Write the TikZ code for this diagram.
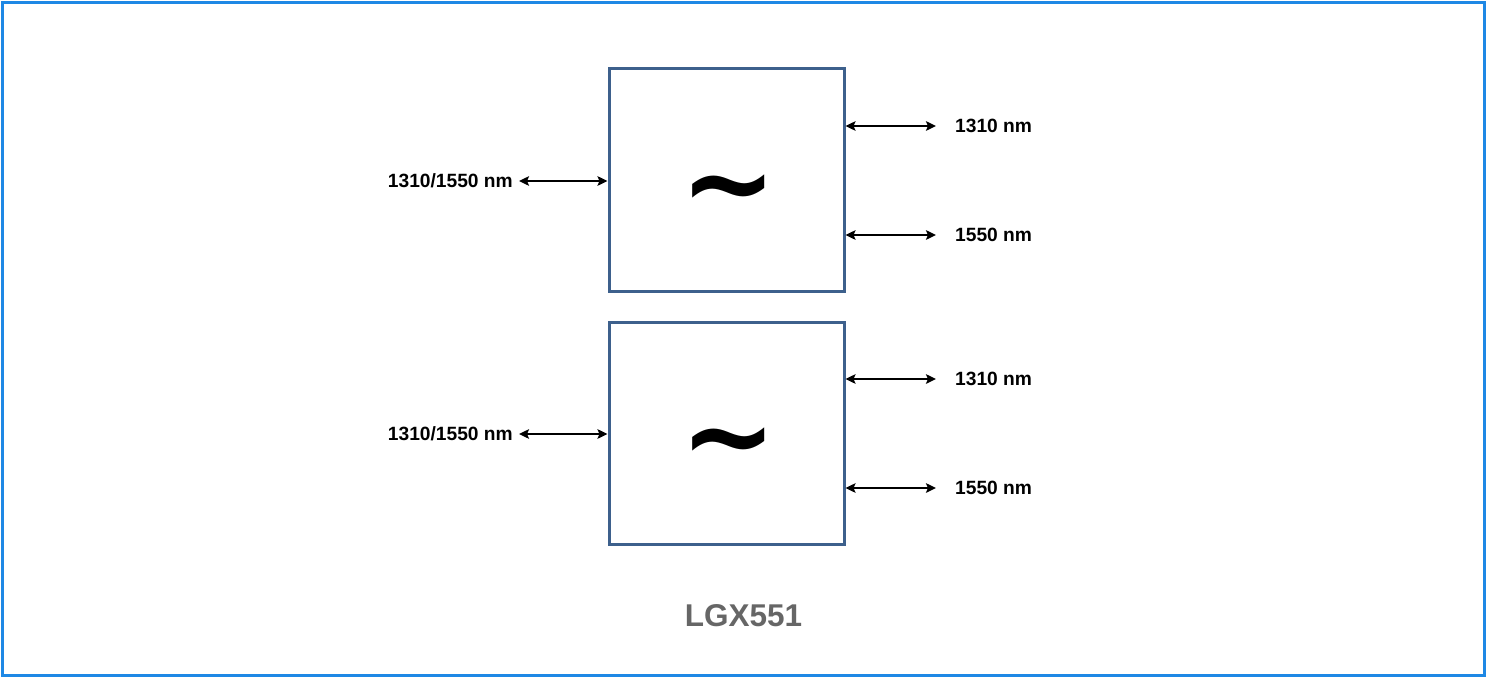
\documentclass[tikz,border=0pt]{standalone}
\usepackage{fontspec}
\setmainfont{Liberation Sans}
\newfontfamily\tildefont{DejaVu Sans}
\usetikzlibrary{arrows.meta}
\definecolor{frameblue}{RGB}{30,136,229}
\definecolor{boxblue}{RGB}{61,96,140}
\definecolor{titlegray}{RGB}{102,102,102}
\tikzset{
  box/.style={draw=boxblue, line width=3pt, minimum width=235pt, minimum height=222pt, inner sep=0pt},
  lab/.style={font=\fontsize{19.2}{21}\selectfont\bfseries, inner sep=0pt},
  conn/.style={line width=2.3pt, {Stealth[length=10pt,width=9.5pt,inset=2pt]}-{Stealth[length=10pt,width=9.5pt,inset=2pt]}},
  wave/.style={font=\tildefont\fontsize{115}{115}\selectfont\bfseries, inner sep=0pt}
}
\begin{document}
\begin{tikzpicture}[x=1pt,y=-1pt]
\useasboundingbox (0,0) rectangle (1486,677);
\draw[frameblue, line width=3pt] (2.5,2.5) rectangle (1484,675);
% top unit
\node[box] (b1) at (726.5,180) {};
\node[wave] (t1) at (729,199) {\textasciitilde};
\node[lab, anchor=east] (l1) at (513,181) {1310/1550 nm};
\node[lab, anchor=west] (r1a) at (955,126) {1310 nm};
\node[lab, anchor=west] (r1b) at (955,235) {1550 nm};
\draw[conn] ([xshift=6pt]l1.east) -- (b1.west |- l1.east);
\draw[conn] (b1.east |- r1a.west) -- ([xshift=-19pt]r1a.west);
\draw[conn] (b1.east |- r1b.west) -- ([xshift=-19pt]r1b.west);
% bottom unit
\node[box] (b2) at (726.5,433) {};
\node[wave] (t2) at (729,452) {\textasciitilde};
\node[lab, anchor=east] (l2) at (513,434) {1310/1550 nm};
\node[lab, anchor=west] (r2a) at (955,379) {1310 nm};
\node[lab, anchor=west] (r2b) at (955,488) {1550 nm};
\draw[conn] ([xshift=6pt]l2.east) -- (b2.west |- l2.east);
\draw[conn] (b2.east |- r2a.west) -- ([xshift=-19pt]r2a.west);
\draw[conn] (b2.east |- r2b.west) -- ([xshift=-19pt]r2b.west);
% title
\node[font=\fontsize{31.5}{34}\selectfont\bfseries, text=titlegray, inner sep=0pt] (title) at (743.5,616) {LGX551};
\end{tikzpicture}
\end{document}
